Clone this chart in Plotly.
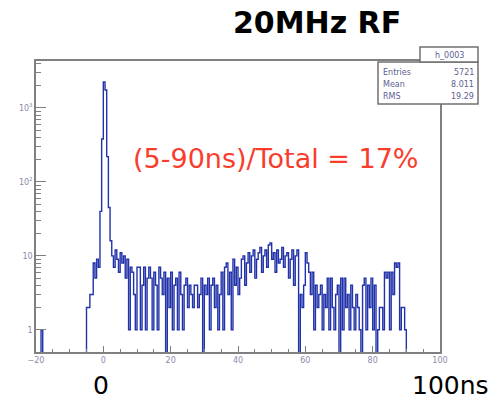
import numpy as np
import plotly.graph_objects as go

# ---------------- data ----------------
bin_width = 0.5
x_min, x_max = -20.0, 100.0

# counts per 0.5 ns bin, from -20 ns to 100 ns (240 bins)
counts_m20_m5 = [0, 0, 0, 1, 0, 0, 0, 0, 0, 0,
                 0, 0, 0, 0, 0, 0, 0, 0, 0, 0,
                 0, 0, 0, 0, 0, 0, 0, 0, 0, 0]
counts_m5_p5 = [2, 2, 3, 3, 8, 5, 9, 7, 40, 380,
                2250, 1750, 220, 45, 16, 10, 7, 12, 9, 6,
                11, 8]
counts_6_90 = [10, 5, 9, 1, 7, 6, 3, 1, 7, 7, 1, 4, 7, 1, 5, 7, 5, 1, 6, 4,
               1, 7, 5, 3, 6, 0, 5, 2, 6, 1, 4, 5, 1, 6, 3, 1, 4, 5, 2, 4,
               3, 2, 4, 4, 2, 3, 5, 0, 4, 3, 5, 1, 4, 5, 2, 4, 1, 3, 6, 1,
               7, 8, 3, 6, 1, 9, 4, 7, 3, 5, 9, 10, 4, 8, 11, 6, 10, 12, 5, 9,
               11, 13, 6, 10, 12, 7, 14, 15, 9, 11, 6, 12, 8, 9, 13, 7, 10, 11, 5, 9,
               12, 4, 10, 12, 0, 3, 2, 4, 11, 8, 6, 3, 6, 1, 4, 2, 3, 4, 1, 3,
               2, 5, 1, 5, 2, 1, 3, 4, 0, 5, 1, 5, 2, 3, 1, 4, 2, 1, 3, 2,
               1, 0, 4, 5, 1, 4, 2, 5, 1, 4, 0, 1, 2, 2, 1, 6, 5, 6, 1, 6,
               3, 8, 7, 8, 1, 2, 2, 1, 0]
counts_90_100 = [0] * 20

counts = counts_m20_m5 + counts_m5_p5 + counts_6_90 + counts_90_100
counts = counts[:240] + [0] * max(0, 240 - len(counts))

title_text = "20MHz RF"
ratio_text = "(5-90ns)/Total = 17%"
stats_name = "h_0003"
stats_rows = [("Entries", "5721"), ("Mean", "8.011"), ("RMS", "19.29")]

x_tick_vals = [-20, 0, 20, 40, 60, 80, 100]
y_tick_vals = [1, 10, 100, 1000]
y_tick_text = ["1", "10", "10<sup>2</sup>", "10<sup>3</sup>"]
y_minor_vals = [m * d for d in (1, 10, 100, 1000) for m in range(2, 10)]

# ---------------- figure ----------------
W, H = 493, 400
L, R, T, B = 36, 440, 61, 352


def px(xp):
    return (xp - L) / (R - L)


def py(yp):
    return (B - yp) / (B - T)


edges = x_min + bin_width * np.arange(len(counts) + 1)
vals = np.array(counts, dtype=float)
plot_vals = np.where(vals > 0, vals, 1e-2)  # empty bins drop below the axis floor
y_step = np.append(plot_vals, plot_vals[-1])

fig = go.Figure()
fig.add_trace(go.Scatter(
    x=edges, y=y_step, mode="lines", line_shape="hv",
    line=dict(color="#2233aa", width=1.4), hoverinfo="skip", showlegend=False))

axis_font = dict(family="DejaVu Sans", size=8, color="#8a8aaa")
fig.update_layout(
    width=W, height=H,
    margin=dict(l=L, r=W - R, t=T, b=H - B),
    paper_bgcolor="white", plot_bgcolor="white",
    showlegend=False,
    xaxis=dict(range=[x_min, x_max], showgrid=False, zeroline=False,
               showline=True, mirror=True, linecolor="#808080", linewidth=1.5,
               ticks="inside", ticklen=6, tickcolor="#808080", tickwidth=1,
               tickvals=x_tick_vals, tickfont=axis_font, ticklabelstandoff=0,
               minor=dict(ticks="inside", ticklen=3, dtick=5, tickcolor="#808080", showgrid=False)),
    yaxis=dict(type="log", range=[-0.3, 3.635], showgrid=False, zeroline=False,
               showline=True, mirror=True, linecolor="#808080", linewidth=1.5,
               ticks="inside", ticklen=10, tickcolor="#808080", tickwidth=1,
               tickvals=y_tick_vals, ticktext=y_tick_text, tickfont=axis_font,
               minor=dict(ticks="inside", ticklen=5, tickvals=y_minor_vals, tickcolor="#808080", showgrid=False)),
)

# stats box
box_line = dict(color="#707070", width=1.5)
fig.add_shape(type="rect", xref="paper", yref="paper", layer="above",
              x0=px(378), x1=px(478), y0=py(104), y1=py(62),
              line=box_line, fillcolor="white")
fig.add_shape(type="rect", xref="paper", yref="paper", layer="above",
              x0=px(420), x1=px(478), y0=py(62), y1=py(47),
              line=box_line, fillcolor="white")
stat_font = dict(family="DejaVu Sans", size=8, color="#606090")
fig.add_annotation(xref="paper", yref="paper", x=px(449), y=py(55), text=stats_name,
                   showarrow=False, xanchor="center", yanchor="middle", font=stat_font)
for i, (k, v) in enumerate(stats_rows):
    yy = py(72 + 12 * i)
    fig.add_annotation(xref="paper", yref="paper", x=px(381), y=yy, text=k,
                       showarrow=False, xanchor="left", yanchor="middle", font=stat_font)
    fig.add_annotation(xref="paper", yref="paper", x=px(476), y=yy, text=v,
                       showarrow=False, xanchor="right", yanchor="middle", font=stat_font)

# title and annotations
fig.add_annotation(xref="paper", yref="paper", x=px(317), y=py(22), text=title_text,
                   showarrow=False, xanchor="center", yanchor="middle",
                   font=dict(family="DejaVu Sans", size=30, color="black", weight="bold"))
fig.add_annotation(xref="paper", yref="paper", x=px(131), y=py(158), text=ratio_text,
                   showarrow=False, xanchor="left", yanchor="middle",
                   font=dict(family="DejaVu Sans", size=27, color="#f93d2c"))
fig.add_annotation(xref="paper", yref="paper", x=px(101), y=py(385), text="0",
                   showarrow=False, xanchor="center", yanchor="middle",
                   font=dict(family="DejaVu Sans", size=25, color="black"))
fig.add_annotation(xref="paper", yref="paper", x=px(450), y=py(385), text="100ns",
                   showarrow=False, xanchor="center", yanchor="middle",
                   font=dict(family="DejaVu Sans", size=25, color="black"))

fig.write_html("out.html", config={"displayModeBar": False},
               post_script="document.body.style.margin='0px';document.body.style.padding='0px';")
